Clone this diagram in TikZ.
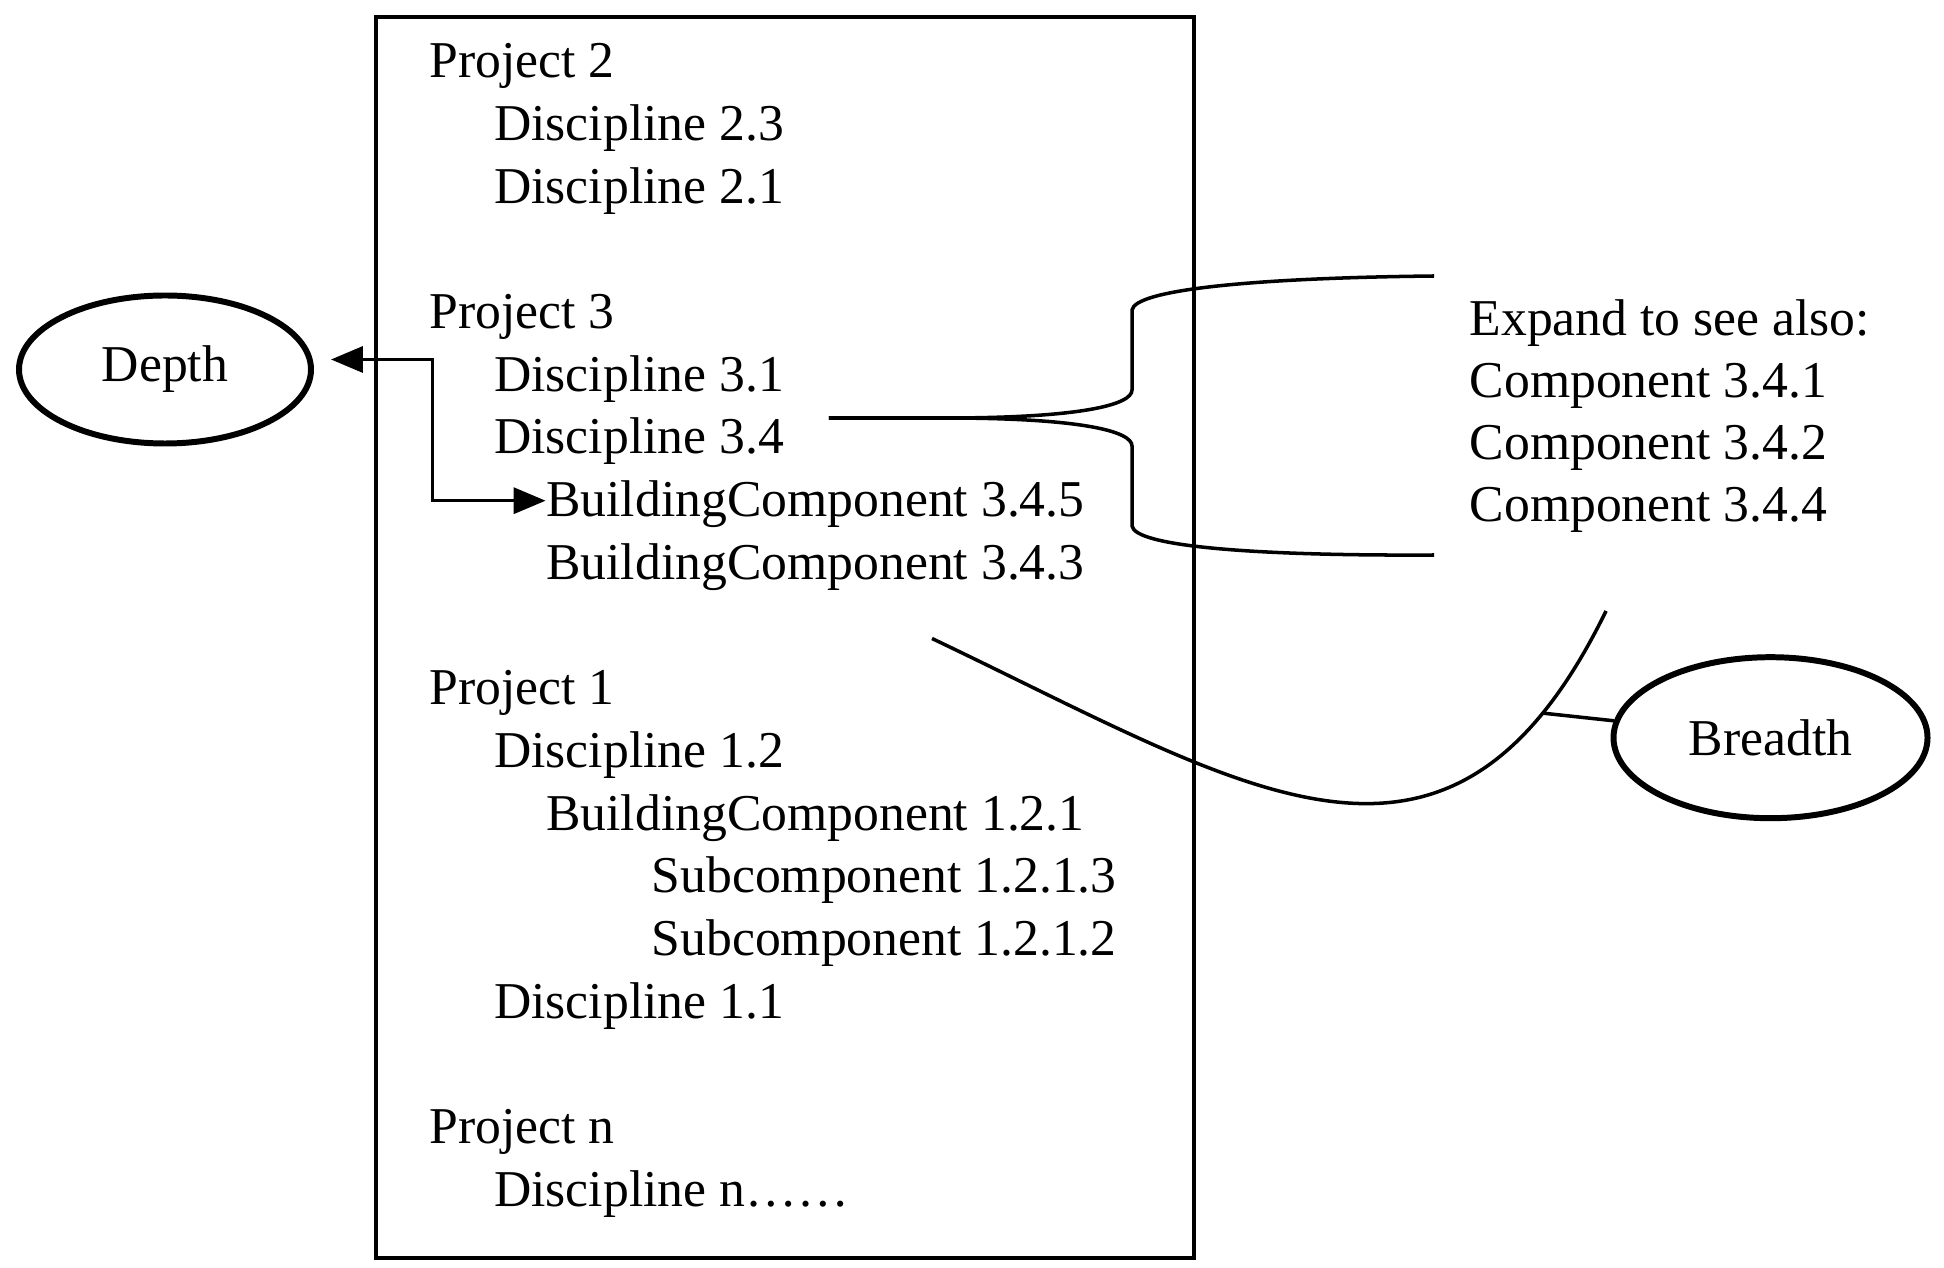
\documentclass[tikz,border=0pt]{standalone}
\usepackage{fontspec}
\setmainfont{Liberation Serif}
\usetikzlibrary{arrows.meta,shapes.geometric}

\begin{document}
\begin{tikzpicture}[
  font=\fontsize{14.7pt}{17pt}\selectfont,
  entry/.style={anchor=west, inner sep=0pt, text height=0.34cm, text depth=0.02cm},
  bubble/.style={draw, ellipse, line width=1.7pt, inner sep=0pt},
  curly/.style={line width=1pt},
  depthline/.style={line width=1pt, {Triangle[length=0.32cm,width=0.26cm]}-{Triangle[length=0.32cm,width=0.26cm]}}
]
\useasboundingbox (0,0) rectangle (19.44,12.67);
\draw[line width=1.3pt] (3.76,0.09) rectangle (11.94,12.5);

% tree
\node[entry] (p2) at (4.29,12.05) {Project 2};
\node[entry] (d23) at (4.935,11.423) {Discipline 2.3};
\node[entry] (d21) at (4.935,10.797) {Discipline 2.1};
\node[entry] (p3) at (4.29,9.543) {Project 3};
\node[entry] (d31) at (4.935,8.917) {Discipline 3.1};
\node[entry] (d34) at (4.935,8.29) {Discipline 3.4};
\node[entry] (bc345) at (5.456,7.663) {BuildingComponent 3.4.5};
\node[entry] (bc343) at (5.456,7.037) {BuildingComponent 3.4.3};
\node[entry] (p1) at (4.29,5.783) {Project 1};
\node[entry] (d12) at (4.935,5.157) {Discipline 1.2};
\node[entry] (bc121) at (5.456,4.53) {BuildingComponent 1.2.1};
\node[entry] (sc1213) at (6.51,3.903) {Subcomponent 1.2.1.3};
\node[entry] (sc1212) at (6.51,3.277) {Subcomponent 1.2.1.2};
\node[entry] (d11) at (4.935,2.65) {Discipline 1.1};
\node[entry] (pn) at (4.29,1.396) {Project n};
\node[entry] (dn) at (4.935,0.77) {Discipline n……};

% expand list
\node[entry] (expand) at (14.69,9.47) {Expand to see also:};
\node[entry] (c341) at (14.69,8.85) {Component 3.4.1};
\node[entry] (c342) at (14.69,8.23) {Component 3.4.2};
\node[entry] (c344) at (14.69,7.61) {Component 3.4.4};

\node[bubble, minimum width=2.92cm, minimum height=1.48cm] (depth) at (1.65,8.975) {Depth};
\node[bubble, minimum width=3.14cm, minimum height=1.61cm] (breadth) at (17.705,5.293) {Breadth};

% depth arrow
\draw[depthline] ([xshift=0.17cm,yshift=0.1cm]depth.east) -| ([xshift=-1.13cm]bc345.west) -- (bc345.west);

% brace
\coordinate (fork) at ([xshift=0.44cm,yshift=0.2cm]d34.east);
\coordinate (upend) at (14.34,9.91);
\coordinate (lowend) at (14.34,7.12);
\draw[curly] (fork) -- (9.45,8.49) .. controls (10.8,8.49) and (11.32,8.62) .. (11.32,8.77)
  -- (11.32,9.57) .. controls (11.35,9.77) and (12.5,9.89) .. (upend);
\draw[curly] (fork) -- (9.45,8.49) .. controls (10.8,8.49) and (11.32,8.36) .. (11.32,8.21)
  -- (11.32,7.41) .. controls (11.35,7.21) and (12.5,7.11) .. (lowend);

% breadth
\coordinate (swoop) at (9.32,6.285);
\coordinate (swoopend) at (16.06,6.56);
\draw[curly] (swoop) .. controls (12.5,4.77) and (14.5,3.37) .. (swoopend) coordinate[pos=0.87] (tick);
\draw[curly] (tick) -- (breadth);
\end{tikzpicture}
\end{document}
